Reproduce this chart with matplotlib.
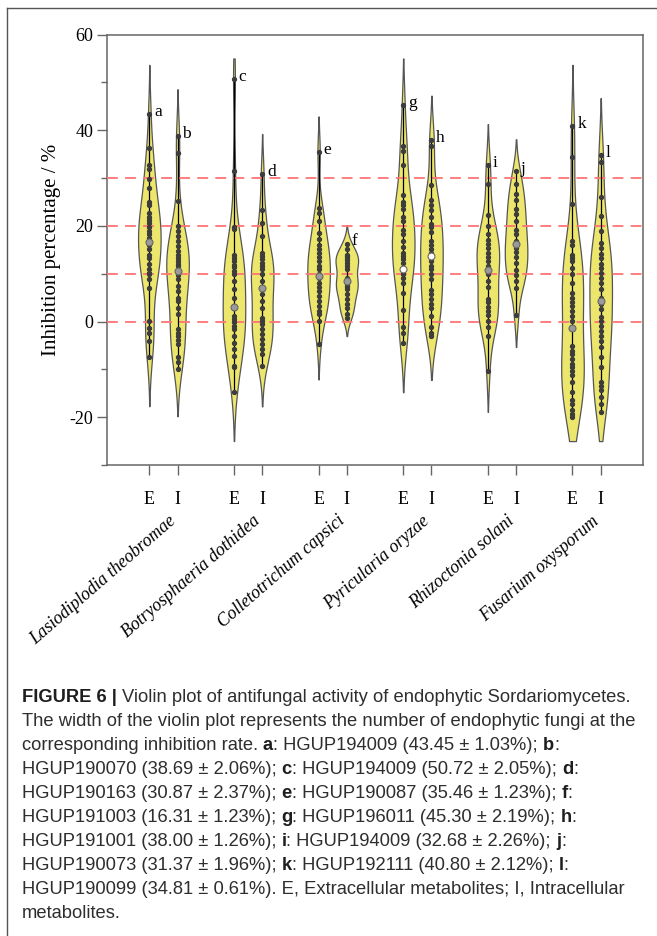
import numpy as np
import matplotlib.pyplot as plt
from matplotlib import mlab
from matplotlib.lines import Line2D

# pathogens and extract type
species = ["Lasiodiplodia theobromae", "Botryosphaeria dothidea", "Colletotrichum capsici",
           "Pyricularia oryzae", "Rhizoctonia solani", "Fusarium oxysporum"]
groups = ["E", "I"]
letters = ["a", "b", "c", "d", "e", "f", "g", "h", "i", "j", "k", "l"]

# inhibition (%) of each strain
a_vals = [43.45, 36.3, 32.8, 31.9, 29.9, 27.9, 25.0, 24.4, 22.6, 21.9, 21.2, 20.5, 19.7, 18.9, 18.2,
          17.5, 16.1, 15.1, 14.0, 13.2, 12.1, 11.0, 10.2, 10.0, 8.8, 7.1, 0.1, -1.3, -2.4, -4.0, -7.5]
b_vals = [38.69, 35.2, 25.1, 19.9, 18.9, 17.8, 16.8, 15.8, 14.7, 14.0, 13.2, 12.6, 12.1, 11.6, 10.6,
          9.7, 8.8, 7.4, 6.4, 5.0, 4.3, 2.8, 1.5, -1.6, -2.5, -3.0, -3.9, -4.7, -7.5, -8.5, -9.9]
c_vals = [50.72, 31.5, 19.8, 19.4, 13.9, 13.2, 12.6, 11.9, 11.3, 10.6, 10.0, 8.5, 6.7, 5.0, 2.9, 2.8,
          1.2, 0.5, -0.2, -0.9, -1.6, -3.0, -4.4, -5.8, -7.2, -9.2, -9.6, -14.8]
d_vals = [30.87, 23.4, 20.6, 17.8, 14.4, 13.7, 13.0, 12.3, 11.6, 10.9, 9.9, 8.5, 7.1, 6.7, 5.7, 4.3,
          2.9, 0.8, 0.1, -0.6, -1.6, -2.6, -3.7, -4.7, -5.8, -6.8, -9.4]
e_vals = [35.46, 23.7, 22.7, 21.0, 18.5, 17.2, 16.1, 15.2, 14.4, 13.5, 12.6, 11.6, 10.9, 10.0, 9.2,
          8.1, 7.2, 6.4, 5.3, 4.3, 3.3, 2.2, 1.5, 0.1, -4.7]
f_vals = [16.31, 15.1, 14.0, 13.6, 13.2, 12.8, 12.3, 11.6, 10.9, 9.2, 8.7, 8.2, 7.6, 7.2, 6.7, 5.7,
          4.7, 3.6, 2.9, 1.5, 0.8]
g_vals = [45.30, 36.6, 35.6, 32.8, 26.4, 24.9, 24.3, 23.6, 21.8, 21.0, 19.2, 18.2, 16.9, 15.6, 14.4,
          13.7, 13.0, 12.3, 9.9, 9.0, 8.0, 6.0, 2.4, -1.1, -2.3, -4.4]
h_vals = [38.00, 36.6, 28.5, 25.5, 24.4, 23.4, 21.8, 20.4, 19.7, 18.75, 16.8, 16.0, 15.2, 14.4, 12.6,
          11.6, 10.9, 10.0, 8.8, 6.5, 5.7, 4.7, 3.75, 2.9, 1.2, -1.25, -2.3, -3.0]
i_vals = [32.68, 28.8, 22.2, 19.9, 18.2, 17.0, 16.25, 15.4, 14.4, 13.5, 12.6, 11.6, 9.9, 8.5, 7.3,
          4.65, 4.0, 3.1, 2.2, 1.3, 0.1, -1.25, -3.0, -10.3]
j_vals = [31.37, 28.8, 26.7, 25.5, 23.6, 22.4, 21.0, 19.2, 18.2, 16.8, 15.4, 14.5, 13.5, 12.3, 10.7,
          9.7, 8.5, 7.1, 1.4]
k_vals = [40.80, 34.4, 24.6, 16.8, 16.1, 14.0, 13.3, 12.6, 11.25, 9.9, 8.1, 6.0, 5.0, 4.0, 3.3, 2.2,
          1.2, 0.1, -5.1, -6.1, -6.8, -7.8, -8.9, -9.6, -10.3, -11.1, -12.7, -14.8, -16.5, -17.2,
          -18.6, -19.3, -20.0]
l_vals = [34.81, 33.3, 26.0, 22.0, 18.9, 16.5, 15.4, 14.2, 13.2, 12.1, 11.25, 10.2, 9.2, 8.1, 6.7,
          5.0, 3.6, 2.6, 1.0, 0.1, -0.9, -1.9, -3.0, -4.0, -5.4, -7.5, -9.6, -12.7, -13.4, -14.4,
          -15.8, -17.2, -19.0]
all_vals = [a_vals, b_vals, c_vals, d_vals, e_vals, f_vals,
            g_vals, h_vals, i_vals, j_vals, k_vals, l_vals]
means = [16.7, 10.6, 3.0, 7.1, 9.6, 8.5, 11.0, 13.7, 10.7, 16.3, -1.4, 4.3]
ref_lines = [0, 10, 20, 30]

caption = [
    [("FIGURE 6 | ", True), ("Violin plot of antifungal activity of endophytic Sordariomycetes.", False)],
    [("The width of the violin plot represents the number of endophytic fungi at the", False)],
    [("corresponding inhibition rate. ", False), ("a", True), (": HGUP194009 (43.45 \u00b1 1.03%); ", False), ("b", True), (":", False)],
    [("HGUP190070 (38.69 \u00b1 2.06%); ", False), ("c", True), (": HGUP194009 (50.72 \u00b1 2.05%); ", False), ("d", True), (":", False)],
    [("HGUP190163 (30.87 \u00b1 2.37%); ", False), ("e", True), (": HGUP190087 (35.46 \u00b1 1.23%); ", False), ("f", True), (":", False)],
    [("HGUP191003 (16.31 \u00b1 1.23%); ", False), ("g", True), (": HGUP196011 (45.30 \u00b1 2.19%); ", False), ("h", True), (":", False)],
    [("HGUP191001 (38.00 \u00b1 1.26%); ", False), ("i", True), (": HGUP194009 (32.68 \u00b1 2.26%); ", False), ("j", True), (":", False)],
    [("HGUP190073 (31.37 \u00b1 1.96%); ", False), ("k", True), (": HGUP192111 (40.80 \u00b1 2.12%); ", False), ("l", True), (":", False)],
    [("HGUP190099 (34.81 \u00b1 0.61%). E, Extracellular metabolites; I, Intracellular", False)],
    [("metabolites.", False)],
]

serif = "Liberation Serif"
yellow = "#ECE66C"

fig = plt.figure(figsize=(6.57, 9.36), dpi=100)
ax = fig.add_axes([0.1629, 0.5032, 0.8158, 0.4599])

positions = []
for s in range(len(species)):
    positions += [1 + 3 * s, 2 + 3 * s]

# kde stats for the violins, range clipped like the original
stats = []
for vals in all_vals:
    v = np.array(vals)
    kde = mlab.GaussianKDE(v, bw_method=0.42)
    bw = np.sqrt(kde.covariance).item()
    lo = max(v.min() - 2 * bw, -25)
    hi = min(v.max() + 2 * bw, 55)
    coords = np.linspace(lo, hi, 300)
    stats.append(dict(coords=coords, vals=kde.evaluate(coords), mean=v.mean(),
                      median=np.median(v), min=v.min(), max=v.max()))

for yv in ref_lines:
    ax.axhline(yv, color="#ff7575", lw=1.3, dashes=(6, 4), zorder=3)

parts = ax.violin(stats, positions=positions, widths=0.8,
                  showmeans=False, showextrema=False, showmedians=False)
for body in parts["bodies"]:
    body.set_facecolor(yellow)
    body.set_edgecolor("#555555")
    body.set_linewidth(0.9)
    body.set_alpha(1)
    body.set_zorder(2)

for k, vals in enumerate(all_vals):
    x = positions[k]
    ax.vlines(x, min(vals), max(vals), color="black", lw=0.9, zorder=4)
    ax.plot([x] * len(vals), vals, "o", ms=2.8, color="#3c3c3c", zorder=5)
    face = "white" if k in (6, 7) else "#9a9a9a"
    ax.plot(x, means[k], "o", ms=5, mfc=face, mec="#666666", mew=0.8, zorder=6)
    ax.annotate(letters[k], (x, max(vals)), xytext=(3.5, 1.5), textcoords="offset points",
                ha="left", va="center", fontsize=12.5, family=serif, zorder=7)

ax.set_xlim(-0.5, 18.5)
ax.set_ylim(-30, 60)
ax.set_xticks(positions)
ax.set_xticklabels(groups * len(species), family=serif, fontsize=13)
ax.set_yticks([-20, 0, 20, 40, 60])
ax.set_yticklabels(["-20", "0", "20", "40", "60"], family=serif, fontsize=13)
ax.set_yticks(np.arange(-30, 61, 10), minor=True)
ax.tick_params(axis="both", which="major", direction="out", length=7, width=1, color="#666666", pad=3)
ax.tick_params(axis="y", which="minor", direction="out", length=4, width=1, color="#666666")
ax.tick_params(axis="x", pad=12)
for sp in ax.spines.values():
    sp.set_color("#666666")
    sp.set_linewidth(1.1)
ax.set_ylabel("Inhibition percentage / %", family=serif, fontsize=15, labelpad=6)

# species names under each E/I pair
for s, name in enumerate(species):
    ax.text(2 + 3 * s - 0.15, -0.125, name, transform=ax.get_xaxis_transform(),
            rotation=41, rotation_mode="anchor", ha="right", va="center",
            family=serif, style="italic", fontsize=12.8)

# caption block
cap = fig.add_axes([0, 0, 1, 1])
cap.axis("off")
cap.set_xlim(0, 1)
cap.set_ylim(0, 1)
cap.add_line(Line2D([0.011, 0.011], [0, 0.991], color="#555555", lw=1))
cap.add_line(Line2D([0.011, 1], [0.991, 0.991], color="#555555", lw=1))

y0 = 1 - 706 / 936
step = 24 / 936
for n, line in enumerate(caption):
    prev = None
    for txt, bold in line:
        w = "bold" if bold else "normal"
        col = "#1e1e1e" if bold else "#2e2e2e"
        if prev is None:
            prev = cap.text(0.033, y0 - n * step, txt, ha="left", va="bottom",
                            fontsize=13.2, family="Liberation Sans", weight=w, color=col)
        else:
            prev = cap.annotate(txt, xy=(1, 0), xycoords=prev, ha="left", va="bottom",
                                fontsize=13.2, family="Liberation Sans", weight=w, color=col)

plt.savefig("out.png", dpi=100)
plt.close()
